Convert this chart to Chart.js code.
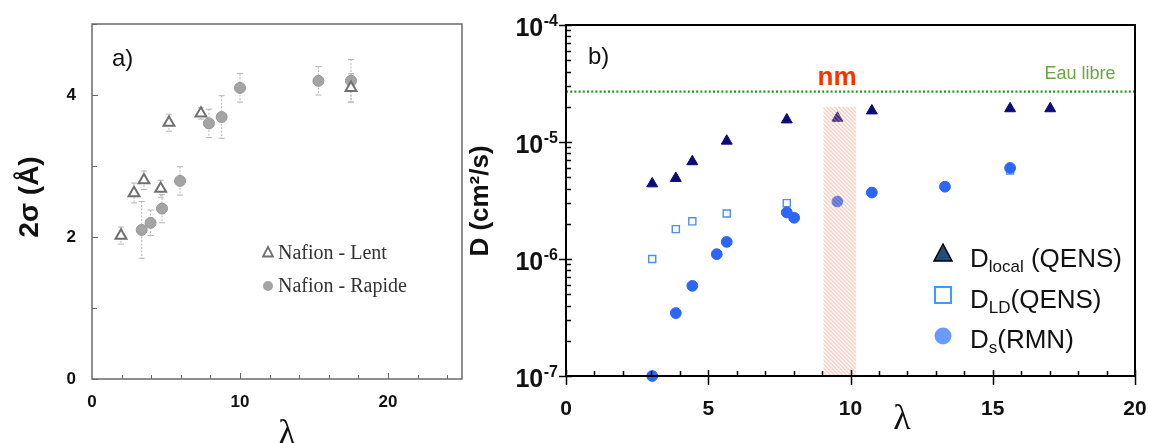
<!DOCTYPE html>
<html>
<head>
<meta charset="utf-8">
<script src="https://cdn.jsdelivr.net/npm/chart.js@4.4.1/dist/chart.umd.min.js"></script>
<style>
html, body { margin: 0; padding: 0; background: #fff; }
#wrap { position: relative; width: 1149px; height: 443px; overflow: hidden; background: #fff; }
#chartA { position: absolute; left: 0; top: 0; }
#chartB { position: absolute; left: 460px; top: 0; }
</style>
</head>
<body>
<div id="wrap">
  <canvas id="chartA" width="480" height="443"></canvas>
  <canvas id="chartB" width="689" height="443"></canvas>
</div>
<script>
// ---- panel a) : 2 sigma vs lambda
var lambdaLent   = [1.96, 2.84, 3.51, 4.64, 5.2, 7.36, 17.5];
var sigmaLent    = [2.02, 2.62, 2.8, 2.68, 3.61, 3.74, 4.1];
var errLent      = [0.12, 0.14, 0.13, 0.12, 0.12, 0.08, 0.2];
var lambdaRapide = [3.36, 3.96, 4.73, 5.95, 7.9, 8.76, 10.0, 15.3, 17.5];
var sigmaRapide  = [2.1, 2.2, 2.4, 2.79, 3.6, 3.69, 4.1, 4.2, 4.2];
var errRapide    = [0.4, 0.18, 0.2, 0.2, 0.2, 0.3, 0.2, 0.2, 0.3];
var xTicksA = [0, 10, 20];
var yTicksA = [0, 2, 4];

// ---- panel b) : D vs lambda
var lambdaLocal = [3.03, 3.86, 4.44, 5.65, 7.76, 9.54, 10.75, 15.61, 17.02];
var dLocal      = [4.4e-6, 4.9e-6, 6.8e-6, 1.02e-5, 1.55e-5, 1.6e-5, 1.85e-5, 1.93e-5, 1.93e-5];
var lambdaLD    = [3.03, 3.86, 4.44, 5.65, 7.76, 15.61];
var dLD         = [1.0e-6, 1.8e-6, 2.1e-6, 2.45e-6, 3.0e-6, 5.7e-6];
var lambdaS     = [3.03, 3.86, 4.44, 5.3, 5.65, 7.76, 8.02, 9.54, 10.75, 13.32, 15.61];
var dS          = [1.0e-7, 3.45e-7, 5.9e-7, 1.1e-6, 1.4e-6, 2.5e-6, 2.25e-6, 3.1e-6, 3.7e-6, 4.15e-6, 6.0e-6];
var xTicksB = [0, 5, 10, 15, 20];
var yTicksB = [1e-7, 1e-6, 1e-5, 1e-4];
var eauLibre = 2.7e-5;
var nmBand = [9.05, 10.2];
var nmTop = 2e-5;

var SANS = '"Liberation Sans", Arial, sans-serif';
var SERIF = '"Liberation Serif", "Times New Roman", serif';

function toPoints(xs, ys) {
    return xs.map(function (x, i) { return { x: x, y: ys[i] }; });
}

// ---------------- panel a plugins
var errorBarsA = {
    id: 'errorBarsA',
    beforeDatasetsDraw: function (chart) {
        var ctx = chart.ctx, sx = chart.scales.x, sy = chart.scales.y;
        chart.data.datasets.forEach(function (ds) {
            if (!ds.errors) return;
            ds.data.forEach(function (p, i) {
                var px = sx.getPixelForValue(p.x);
                var top = sy.getPixelForValue(p.y + ds.errors[i]);
                var bot = sy.getPixelForValue(p.y - ds.errors[i]);
                ctx.save();
                ctx.strokeStyle = '#b4b4b4';
                ctx.lineWidth = 1;
                ctx.setLineDash([2, 1.5]);
                ctx.beginPath();
                ctx.moveTo(px, top);
                ctx.lineTo(px, bot);
                ctx.stroke();
                ctx.setLineDash([]);
                ctx.beginPath();
                ctx.moveTo(px - 3, top); ctx.lineTo(px + 3, top);
                ctx.moveTo(px - 3, bot); ctx.lineTo(px + 3, bot);
                ctx.stroke();
                ctx.restore();
            });
        });
    }
};

var frameA = {
    id: 'frameA',
    afterDraw: function (chart) {
        var ctx = chart.ctx, a = chart.chartArea, sx = chart.scales.x, sy = chart.scales.y;
        ctx.save();
        ctx.strokeStyle = '#6a6a6a';
        ctx.lineWidth = 1.5;
        ctx.strokeRect(a.left, a.top, a.right - a.left, a.bottom - a.top);
        ctx.lineWidth = 1;
        // ticks inward
        for (var v = 0; v <= 5; v++) {
            var py = Math.round(sy.getPixelForValue(v)) + 0.5;
            var len = (v % 2 === 0) ? 6 : 5;
            ctx.beginPath(); ctx.moveTo(a.left, py); ctx.lineTo(a.left + len, py); ctx.stroke();
        }
        for (var u = 2; u < 25; u += 2) {
            var px = Math.round(sx.getPixelForValue(u)) + 0.5;
            var l2 = (u % 10 === 0) ? 6 : 4;
            ctx.beginPath(); ctx.moveTo(px, a.bottom); ctx.lineTo(px, a.bottom - l2); ctx.stroke();
        }
        // panel tag
        ctx.fillStyle = '#111';
        ctx.font = '24px ' + SANS;
        ctx.textAlign = 'left';
        ctx.textBaseline = 'middle';
        ctx.fillText('a)', 112, 59);
        // axis titles
        ctx.font = '36px ' + SERIF;
        ctx.textAlign = 'center';
        ctx.fillText('λ', 287, 435);
        ctx.save();
        ctx.translate(30, 197);
        ctx.rotate(-Math.PI / 2);
        ctx.font = 'bold 28px ' + SANS;
        ctx.fillText('2σ (Å)', 0, 0);
        ctx.restore();
        // legend
        var dsL = chart.data.datasets[0], dsR = chart.data.datasets[1];
        ctx.strokeStyle = dsL.borderColor;
        ctx.lineWidth = 1.8;
        ctx.beginPath();
        ctx.moveTo(268, 247); ctx.lineTo(273, 256.5); ctx.lineTo(263, 256.5); ctx.closePath();
        ctx.stroke();
        ctx.fillStyle = dsR.backgroundColor;
        ctx.beginPath(); ctx.arc(268, 286, 5, 0, Math.PI * 2); ctx.fill();
        ctx.fillStyle = '#333';
        ctx.font = '20px ' + SERIF;
        ctx.textAlign = 'left';
        ctx.textBaseline = 'alphabetic';
        ctx.fillText(dsL.label, 278, 258.5);
        ctx.fillText(dsR.label, 278, 291.5);
        ctx.restore();
    }
};

new Chart(document.getElementById('chartA'), {
    type: 'scatter',
    data: {
        datasets: [{
            label: 'Nafion - Lent',
            data: toPoints(lambdaLent, sigmaLent),
            errors: errLent,
            pointStyle: 'triangle',
            pointRadius: 6.3,
            backgroundColor: '#ffffff',
            borderColor: '#707070',
            borderWidth: 2,
            clip: false
        }, {
            label: 'Nafion - Rapide',
            data: toPoints(lambdaRapide, sigmaRapide),
            errors: errRapide,
            pointStyle: 'circle',
            pointRadius: 5.5,
            backgroundColor: '#a4a4a4',
            borderColor: '#979797',
            borderWidth: 1,
            clip: false
        }]
    },
    options: {
        responsive: false,
        animation: false,
        layout: { padding: { top: 24, right: 18, left: 0, bottom: 0 } },
        plugins: { legend: { display: false }, tooltip: { enabled: false } },
        scales: {
            x: {
                type: 'linear', min: 0, max: 25,
                afterFit: function (s) { s.height = 64; s.paddingLeft = 0; s.paddingRight = 0; },
                afterBuildTicks: function (s) { s.ticks = xTicksA.map(function (v) { return { value: v }; }); },
                grid: { display: false, drawTicks: false },
                border: { display: false },
                ticks: { color: '#111', padding: 13, font: { family: SANS, weight: 'bold', size: 17 } }
            },
            y: {
                type: 'linear', min: 0, max: 5,
                afterFit: function (s) { s.width = 92; s.paddingTop = 0; s.paddingBottom = 0; },
                afterBuildTicks: function (s) { s.ticks = yTicksA.map(function (v) { return { value: v }; }); },
                grid: { display: false, drawTicks: false },
                border: { display: false },
                ticks: { color: '#111', padding: 16, font: { family: SANS, weight: 'bold', size: 17 } }
            }
        }
    },
    plugins: [errorBarsA, frameA]
});

// ---------------- panel b plugins
var OFF_B = 460;

var bandB = {
    id: 'bandB',
    beforeDatasetsDraw: function (chart) {
        var ctx = chart.ctx, a = chart.chartArea, sy = chart.scales.y;
        var py = sy.getPixelForValue(eauLibre);
        ctx.save();
        ctx.strokeStyle = '#1f9a1f';
        ctx.lineWidth = 2.2;
        ctx.setLineDash([2, 2.2]);
        ctx.beginPath(); ctx.moveTo(a.left, py); ctx.lineTo(a.right, py); ctx.stroke();
        ctx.restore();
    },
    afterDatasetsDraw: function (chart) {
        var ctx = chart.ctx, sx = chart.scales.x, sy = chart.scales.y;
        var x0 = sx.getPixelForValue(nmBand[0]), x1 = sx.getPixelForValue(nmBand[1]);
        var y0 = sy.getPixelForValue(nmTop), y1 = sy.getPixelForValue(sy.min);
        ctx.save();
        ctx.beginPath(); ctx.rect(x0, y0, x1 - x0, y1 - y0); ctx.clip();
        ctx.fillStyle = 'rgba(255,225,215,0.15)';
        ctx.fillRect(x0, y0, x1 - x0, y1 - y0);
        ctx.strokeStyle = 'rgba(245,150,130,0.48)';
        ctx.lineWidth = 1.2;
        var h = y1 - y0;
        for (var k = -h; k < (x1 - x0) + 4; k += 4) {
            ctx.beginPath(); ctx.moveTo(x0 + k, y0); ctx.lineTo(x0 + k + h, y1); ctx.stroke();
        }
        ctx.restore();
    }
};

var frameB = {
    id: 'frameB',
    afterDraw: function (chart) {
        var ctx = chart.ctx, a = chart.chartArea, sx = chart.scales.x, sy = chart.scales.y;
        ctx.save();
        ctx.strokeStyle = '#000';
        ctx.lineWidth = 2;
        ctx.strokeRect(a.left, a.top, a.right - a.left, a.bottom - a.top);
        // y ticks
        ctx.lineWidth = 1.5;
        for (var e = -7; e <= -4; e++) {
            for (var m = 1; m <= 9; m++) {
                var val = m * Math.pow(10, e);
                if (val > sy.max * 1.0001) break;
                var py = Math.round(sy.getPixelForValue(val)) + 0.5;
                ctx.beginPath();
                if (m === 1) { ctx.moveTo(a.left - 7, py); ctx.lineTo(a.left + 6, py); }
                else { ctx.moveTo(a.left, py); ctx.lineTo(a.left + 5, py); }
                ctx.stroke();
            }
        }
        // x ticks
        for (var u = 0; u <= 20; u++) {
            var px = Math.round(sx.getPixelForValue(u)) + 0.5;
            ctx.beginPath();
            if (u % 5 === 0) { ctx.moveTo(px, a.bottom - 6); ctx.lineTo(px, a.bottom + 9); }
            else { ctx.moveTo(px, a.bottom - 5); ctx.lineTo(px, a.bottom); }
            ctx.stroke();
        }
        // y tick labels 10^n
        ctx.fillStyle = '#111';
        ctx.textAlign = 'right';
        ctx.textBaseline = 'alphabetic';
        yTicksB.forEach(function (v) {
            var py = sy.getPixelForValue(v);
            var sup = String(Math.round(Math.log10(v)));
            ctx.font = 'bold 16px ' + SANS;
            var w = ctx.measureText(sup).width;
            var right = a.left - 8;
            ctx.fillText(sup, right, py + 1);
            ctx.font = 'bold 25px ' + SANS;
            ctx.fillText('10', right - w - 0.5, py + 11);
        });
        // panel tag and texts
        ctx.textAlign = 'left';
        ctx.textBaseline = 'middle';
        ctx.font = '24px ' + SANS;
        ctx.fillText('b)', 588 - OFF_B, 57);
        ctx.fillStyle = '#ff3300';
        ctx.font = 'bold 26px ' + SANS;
        ctx.textAlign = 'center';
        ctx.fillText('nm', 837 - OFF_B, 78);
        ctx.fillStyle = '#6aa641';
        ctx.font = '18px ' + SANS;
        ctx.fillText('Eau libre', 1080 - OFF_B, 74);
        // axis titles
        ctx.fillStyle = '#111';
        ctx.font = '36px ' + SERIF;
        ctx.fillText('λ', 902 - OFF_B, 420);
        ctx.save();
        ctx.translate(481 - OFF_B, 201);
        ctx.rotate(-Math.PI / 2);
        ctx.font = 'bold 26px ' + SANS;
        ctx.fillText('D (cm²/s)', 0, 0);
        ctx.restore();
        // legend
        var lx = 943 - OFF_B;
        ctx.fillStyle = '#1f4e79';
        ctx.strokeStyle = '#000';
        ctx.lineWidth = 1.5;
        ctx.beginPath();
        ctx.moveTo(lx, 244); ctx.lineTo(lx + 9, 261); ctx.lineTo(lx - 9, 261); ctx.closePath();
        ctx.fill(); ctx.stroke();
        ctx.fillStyle = '#fff';
        ctx.strokeStyle = '#3d9bff';
        ctx.lineWidth = 2;
        ctx.strokeRect(lx - 8, 287, 16, 16);
        ctx.fillStyle = '#6a9cff';
        ctx.beginPath(); ctx.arc(lx, 336, 8.5, 0, Math.PI * 2); ctx.fill();

        var rows = [
            { main: 'D', sub: 'local', tail: ' (QENS)', y: 267 },
            { main: 'D', sub: 'LD', tail: '(QENS)', y: 308 },
            { main: 'D', sub: 's', tail: '(RMN)', y: 348 }
        ];
        ctx.fillStyle = '#111';
        ctx.textAlign = 'left';
        ctx.textBaseline = 'alphabetic';
        rows.forEach(function (r) {
            var x = 970 - OFF_B;
            ctx.font = '26px ' + SANS;
            ctx.fillText(r.main, x, r.y);
            x += ctx.measureText(r.main).width;
            ctx.font = '17px ' + SANS;
            ctx.fillText(r.sub, x, r.y + 5);
            x += ctx.measureText(r.sub).width;
            ctx.font = '26px ' + SANS;
            ctx.fillText(r.tail, x, r.y);
        });
        ctx.restore();
    }
};

new Chart(document.getElementById('chartB'), {
    type: 'scatter',
    data: {
        datasets: [{
            label: 'Dlocal (QENS)',
            data: toPoints(lambdaLocal, dLocal),
            pointStyle: 'triangle',
            pointRadius: 6.3,
            backgroundColor: '#0b0b7c',
            borderColor: '#0b0b7c',
            borderWidth: 1,
            clip: false
        }, {
            label: 'Ds (RMN)',
            data: toPoints(lambdaS, dS),
            pointStyle: 'circle',
            pointRadius: 5.4,
            backgroundColor: '#2c66f6',
            borderColor: '#2c66f6',
            borderWidth: 1,
            clip: false
        }, {
            label: 'DLD (QENS)',
            data: toPoints(lambdaLD, dLD),
            pointStyle: 'rect',
            pointRadius: 5,
            backgroundColor: '#ffffff',
            borderColor: '#4f8cf5',
            borderWidth: 1.4,
            clip: false
        }]
    },
    options: {
        responsive: false,
        animation: false,
        layout: { padding: { top: 25, right: 14, left: 0, bottom: 0 } },
        plugins: { legend: { display: false }, tooltip: { enabled: false } },
        scales: {
            x: {
                type: 'linear', min: 0, max: 20,
                afterFit: function (s) { s.height = 67; s.paddingLeft = 0; s.paddingRight = 0; },
                afterBuildTicks: function (s) { s.ticks = xTicksB.map(function (v) { return { value: v }; }); },
                grid: { display: false, drawTicks: false },
                border: { display: false },
                ticks: { color: '#111', padding: 21, font: { family: SANS, weight: 'bold', size: 21 } }
            },
            y: {
                type: 'logarithmic', min: 1e-7, max: 1e-4,
                afterFit: function (s) { s.width = 106; s.paddingTop = 0; s.paddingBottom = 0; },
                afterBuildTicks: function (s) { s.ticks = yTicksB.map(function (v) { return { value: v }; }); },
                grid: { display: false, drawTicks: false },
                border: { display: false },
                ticks: { display: false }
            }
        }
    },
    plugins: [bandB, frameB]
});
</script>
</body>
</html>
